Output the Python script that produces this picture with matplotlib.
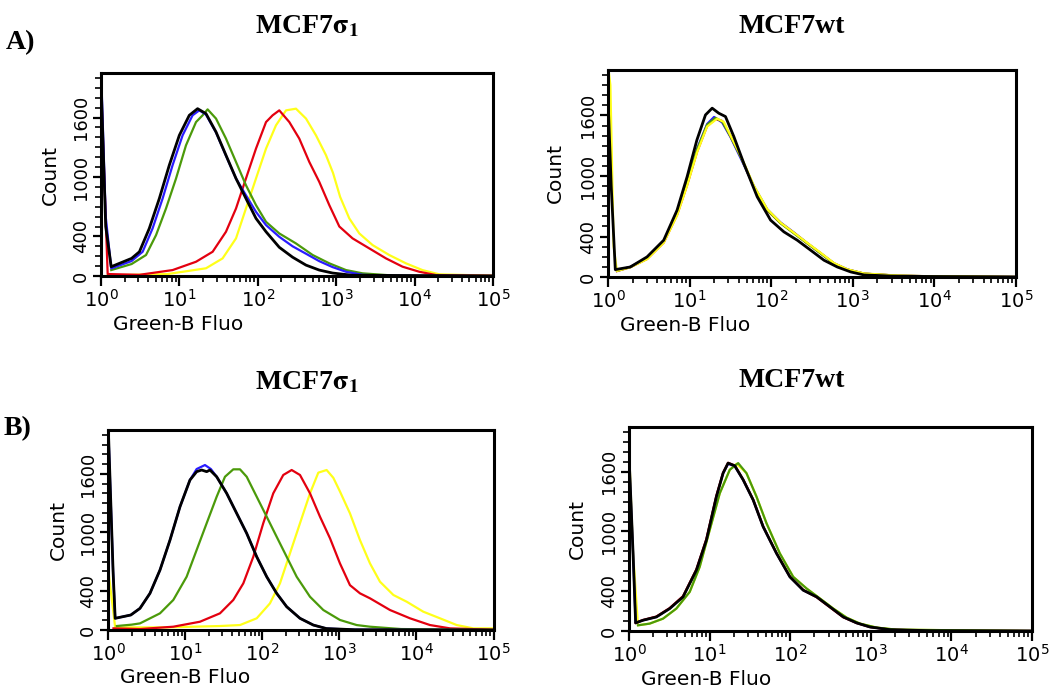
import matplotlib
matplotlib.use("Agg")
import matplotlib.pyplot as plt
from matplotlib.ticker import LogLocator, MultipleLocator, NullFormatter
import numpy as np

plt.rcParams['font.family'] = ['DejaVu Sans']
plt.rcParams['mathtext.fontset'] = 'dejavusans'
plt.rcParams['mathtext.default'] = 'regular'

# histogram traces as (log10 fluorescence, count)
# A) MCF7 sigma1
a1_blue = [(0.0, 2100), (0.06, 600), (0.13, 77), (0.39, 151), (0.531, 245), (0.658, 481), (0.786, 783),
           (0.913, 1119), (1.041, 1421), (1.168, 1623), (1.254, 1673), (1.339, 1630), (1.467, 1450),
           (1.594, 1215), (1.722, 985), (1.849, 816), (1.977, 648), (2.105, 514), (2.274, 396),
           (2.444, 300), (2.615, 225), (2.784, 150), (2.954, 90), (3.125, 43), (3.337, 12),
           (3.7, 3), (5.0, 0)]
a1_green = [(0.13, 60), (0.39, 121), (0.574, 212), (0.702, 413), (0.829, 682), (0.957, 985), (1.084, 1320),
            (1.212, 1555), (1.296, 1623), (1.36, 1683), (1.467, 1590), (1.594, 1388), (1.722, 1152),
            (1.849, 917), (1.977, 716), (2.105, 547), (2.274, 430), (2.487, 329), (2.7, 212),
            (2.912, 128), (3.125, 60), (3.337, 27), (3.76, 3), (5.0, 0)]
a1_black = [(0.0, 1975), (0.06, 500), (0.13, 94), (0.39, 178), (0.49, 245), (0.616, 481), (0.744, 783),
            (0.871, 1119), (0.999, 1421), (1.126, 1623), (1.232, 1690), (1.339, 1640), (1.467, 1455),
            (1.594, 1220), (1.722, 985), (1.849, 783), (1.977, 582), (2.105, 447), (2.274, 290),
            (2.444, 190), (2.615, 110), (2.784, 60), (2.954, 30), (3.2, 8), (5.0, 0)]
a1_red = [(0.0, 1942), (0.085, 20), (0.489, 12), (0.913, 60), (1.212, 144), (1.424, 245), (1.594, 447),
          (1.722, 682), (1.849, 985), (1.977, 1287), (2.105, 1555), (2.189, 1623), (2.274, 1673),
          (2.402, 1555), (2.529, 1388), (2.657, 1152), (2.784, 951), (2.912, 716), (3.04, 500),
          (3.209, 380), (3.422, 279), (3.635, 178), (3.847, 94), (4.06, 43), (4.273, 10), (5.0, 3)]
a1_yellow = [(0.085, 7), (0.85, 20), (1.339, 78), (1.551, 178), (1.722, 380), (1.849, 682), (1.977, 985),
             (2.105, 1287), (2.232, 1522), (2.36, 1673), (2.487, 1690), (2.615, 1590), (2.742, 1421),
             (2.87, 1220), (2.96, 1040), (3.05, 800), (3.167, 582), (3.295, 430), (3.465, 312),
             (3.677, 212), (3.89, 128), (4.1, 60), (4.315, 17), (5.0, 3)]

# A) MCF7wt
a2_blue = [(0.11, 62), (0.274, 101), (0.479, 188), (0.683, 352), (0.847, 640), (0.97, 940), (1.092, 1270),
           (1.215, 1515), (1.3, 1585), (1.4, 1530), (1.502, 1385), (1.624, 1180), (1.788, 900),
           (1.952, 670), (2.115, 540), (2.279, 440), (2.443, 335), (2.606, 235), (2.77, 135),
           (2.934, 75), (3.138, 33), (3.547, 13), (3.957, 7), (5.0, 0)]
a2_red = [(0.11, 58), (0.274, 97), (0.479, 178), (0.683, 340), (0.847, 615), (0.97, 910), (1.092, 1240),
          (1.215, 1495), (1.317, 1565), (1.4, 1545), (1.502, 1395), (1.624, 1200), (1.788, 890),
          (1.952, 660), (2.115, 535), (2.279, 436), (2.443, 333), (2.606, 236), (2.77, 134),
          (2.934, 74), (3.138, 33), (3.547, 13), (3.957, 7), (5.0, 0)]
a2_green = [(0.11, 60), (0.274, 99), (0.479, 184), (0.683, 350), (0.847, 632), (0.97, 930), (1.092, 1262),
            (1.215, 1508), (1.317, 1575), (1.4, 1540), (1.502, 1392), (1.624, 1194), (1.788, 896),
            (1.952, 664), (2.115, 532), (2.279, 432), (2.443, 332), (2.606, 233), (2.77, 133),
            (2.934, 73), (3.138, 33), (3.547, 13), (3.957, 7), (5.0, 0)]
a2_yellow = [(0.0, 2100), (0.03, 1900), (0.07, 300), (0.11, 60), (0.274, 96), (0.479, 176), (0.683, 338),
             (0.847, 610), (0.97, 905), (1.092, 1235), (1.215, 1490), (1.338, 1568), (1.42, 1535),
             (1.502, 1400), (1.624, 1205), (1.788, 905), (1.952, 672), (2.115, 538), (2.279, 438),
             (2.443, 338), (2.606, 240), (2.77, 138), (2.934, 76), (3.138, 35), (3.547, 14), (3.957, 7),
             (5.0, 0)]
a2_black = [(0.0, 1790), (0.04, 900), (0.09, 73), (0.274, 99), (0.479, 199), (0.683, 364), (0.847, 662),
            (0.97, 993), (1.09, 1357), (1.195, 1605), (1.277, 1672), (1.358, 1622), (1.44, 1589),
            (1.543, 1390), (1.665, 1125), (1.829, 794), (1.993, 563), (2.156, 447), (2.32, 364),
            (2.484, 265), (2.647, 166), (2.81, 99), (2.975, 50), (3.138, 20), (3.547, 7), (5.0, 0)]

# B) MCF7 sigma1
b1_yellow = [(0.0, 600), (0.087, 27), (0.758, 27), (1.45, 41), (1.708, 51), (1.925, 120), (2.097, 273),
             (2.227, 478), (2.357, 786), (2.487, 1094), (2.617, 1401), (2.725, 1613), (2.833, 1640),
             (2.92, 1560), (3.006, 1420), (3.136, 1196), (3.266, 922), (3.396, 683), (3.526, 495),
             (3.7, 359), (3.873, 290), (4.088, 188), (4.305, 120), (4.522, 51), (4.738, 17), (5.0, 17)]
b1_red = [(0.065, 17), (0.409, 10), (0.842, 34), (1.188, 85), (1.448, 171), (1.621, 308), (1.751, 478),
          (1.881, 751), (2.01, 1094), (2.14, 1401), (2.27, 1589), (2.379, 1640), (2.487, 1589),
          (2.617, 1401), (2.747, 1161), (2.877, 940), (3.006, 683), (3.136, 460), (3.266, 376),
          (3.396, 325), (3.656, 205), (3.916, 120), (4.175, 51), (4.435, 17), (5.0, 3)]
b1_green = [(0.108, 41), (0.3, 55), (0.409, 68), (0.669, 171), (0.842, 308), (1.015, 546), (1.145, 820),
            (1.275, 1094), (1.405, 1366), (1.513, 1571), (1.621, 1647), (1.708, 1647), (1.795, 1571),
            (1.925, 1366), (2.055, 1161), (2.184, 956), (2.314, 751), (2.444, 546), (2.617, 341),
            (2.79, 205), (3.006, 103), (3.223, 51), (3.396, 34), (3.8, 10), (5.0, 0)]
b1_blue = [(0.0, 2016), (0.06, 600), (0.087, 120), (0.29, 154), (0.409, 222), (0.539, 376), (0.669, 615),
           (0.799, 922), (0.929, 1264), (1.058, 1537), (1.145, 1650), (1.253, 1691), (1.33, 1650),
           (1.405, 1571), (1.535, 1401), (1.665, 1196), (1.795, 991), (1.925, 751), (2.055, 546),
           (2.184, 376), (2.314, 239), (2.487, 120), (2.66, 51), (2.83, 15), (3.2, 3), (5.0, 0)]
b1_black = [(0.0, 2016), (0.06, 600), (0.087, 120), (0.29, 154), (0.409, 222), (0.539, 376), (0.669, 615),
            (0.799, 922), (0.929, 1264), (1.058, 1537), (1.145, 1623), (1.21, 1640), (1.275, 1623),
            (1.318, 1640), (1.405, 1571), (1.535, 1401), (1.665, 1196), (1.795, 991), (1.925, 751),
            (2.055, 546), (2.184, 376), (2.314, 239), (2.487, 120), (2.66, 51), (2.83, 15),
            (3.2, 3), (5.0, 0)]

# B) MCF7wt
b2_yellow = [(0.0, 1850), (0.05, 800), (0.112, 57), (0.257, 74), (0.423, 124), (0.588, 225), (0.754, 393),
             (0.878, 645), (1.002, 1015), (1.127, 1384), (1.251, 1620), (1.335, 1680), (1.458, 1586),
             (1.582, 1351), (1.707, 1082), (1.872, 780), (2.038, 544), (2.204, 427), (2.37, 326),
             (2.535, 225), (2.701, 134), (2.866, 74), (3.073, 34), (3.322, 13), (5.0, 0)]
b2_blue = [(0.0, 1780), (0.05, 800), (0.083, 81), (0.174, 108), (0.34, 141), (0.505, 225), (0.671, 343),
           (0.837, 612), (0.961, 914), (1.085, 1351), (1.168, 1586), (1.23, 1680), (1.313, 1655),
           (1.417, 1519), (1.541, 1317), (1.665, 1048), (1.831, 780), (1.997, 544), (2.162, 410),
           (2.328, 343), (2.494, 242), (2.659, 141), (2.825, 81), (2.991, 40), (3.24, 13),
           (3.737, 3), (5.0, 0)]
b2_red = [(0.083, 81), (0.174, 110), (0.34, 145), (0.505, 230), (0.671, 350), (0.837, 620), (0.961, 925),
          (1.085, 1360), (1.168, 1590), (1.23, 1690), (1.313, 1662), (1.417, 1522), (1.541, 1320),
          (1.665, 1050), (1.831, 782), (1.997, 546), (2.162, 412), (2.328, 340), (2.494, 238),
          (2.659, 138), (2.825, 80), (2.991, 40), (3.24, 13), (3.737, 3), (5.0, 0)]
b2_green = [(0.112, 57), (0.257, 74), (0.423, 124), (0.588, 225), (0.754, 393), (0.878, 645), (1.002, 1015),
            (1.127, 1384), (1.251, 1620), (1.355, 1687), (1.458, 1586), (1.582, 1351), (1.707, 1082),
            (1.872, 780), (2.038, 544), (2.204, 427), (2.37, 326), (2.535, 225), (2.701, 134),
            (2.866, 74), (3.073, 34), (3.322, 13), (5.0, 0)]
b2_black = [(0.0, 1780), (0.05, 800), (0.083, 81), (0.174, 108), (0.34, 141), (0.505, 225), (0.671, 343),
            (0.837, 612), (0.961, 914), (1.085, 1351), (1.168, 1586), (1.23, 1687), (1.313, 1660),
            (1.417, 1519), (1.541, 1317), (1.665, 1048), (1.831, 780), (1.997, 544), (2.162, 410),
            (2.328, 343), (2.494, 242), (2.659, 141), (2.825, 81), (2.991, 40), (3.24, 13),
            (3.737, 3), (5.0, 0)]

ytick_vals = [0, 400, 1000, 1600]
xtick_vals = [1, 10, 100, 1000, 10000, 100000]
xtick_labels = ['$10^{0}$', '$10^{1}$', '$10^{2}$', '$10^{3}$', '$10^{4}$', '$10^{5}$']
ymax = 2050

colors = {'blue': '#2a1cff', 'red': '#e3000f', 'green': '#4b9a0a', 'yellow': '#ffff1a', 'black': '#000000'}

panels = [
    ([0.0962, 0.5994, 0.3733, 0.2946], 'MCF7$\\mathbf{\\sigma_1}$',
     [('yellow', a1_yellow), ('red', a1_red), ('green', a1_green), ('blue', a1_blue), ('black', a1_black)]),
    ([0.579, 0.598, 0.3886, 0.3004], 'MCF7wt',
     [('blue', a2_blue), ('red', a2_red), ('green', a2_green), ('yellow', a2_yellow), ('black', a2_black)]),
    ([0.1033, 0.0856, 0.3667, 0.2903], 'MCF7$\\mathbf{\\sigma_1}$',
     [('yellow', b1_yellow), ('red', b1_red), ('green', b1_green), ('blue', b1_blue), ('black', b1_black)]),
    ([0.599, 0.0842, 0.3838, 0.2961], 'MCF7wt',
     [('yellow', b2_yellow), ('blue', b2_blue), ('red', b2_red), ('green', b2_green), ('black', b2_black)]),
]
title_pos = [(0.292, 0.962), (0.754, 0.962), (0.292, 0.445), (0.754, 0.448)]

fig = plt.figure(figsize=(10.5, 6.89), dpi=100)

for (rect, title, series), (tx, ty) in zip(panels, title_pos):
    ax = fig.add_axes(rect)
    for cname, pts in series:
        dec = np.array([p[0] for p in pts])
        cnt = np.array([p[1] for p in pts])
        lw = 2.0 if cname == 'black' else 1.6
        ax.plot(10 ** dec, cnt, color=colors[cname], lw=lw, solid_joinstyle='round')
    ax.set_xscale('log')
    ax.set_xlim(1, 1e5)
    ax.set_ylim(0, ymax)
    ax.set_xticks(xtick_vals)
    ax.set_xticklabels(xtick_labels, fontsize=14)
    ax.xaxis.set_minor_locator(LogLocator(base=10, subs=np.arange(2, 10), numticks=50))
    ax.xaxis.set_minor_formatter(NullFormatter())
    ax.set_yticks(ytick_vals)
    ax.set_yticklabels([str(v) for v in ytick_vals], rotation=90, va='center', fontsize=13)
    ax.yaxis.set_minor_locator(MultipleLocator(100))
    ax.tick_params(axis='x', which='major', direction='out', length=7, width=1.6, pad=2)
    ax.tick_params(axis='x', which='minor', direction='out', length=4, width=1.2)
    ax.tick_params(axis='y', which='major', direction='out', length=6, width=1.6, pad=2)
    ax.tick_params(axis='y', which='minor', direction='out', length=4, width=1.2)
    for sp in ax.spines.values():
        sp.set_linewidth(2.2)
    ax.set_xlabel('Green-B Fluo', fontsize=14.5, ha='left')
    ax.xaxis.set_label_coords(0.03, -0.19)
    ax.set_ylabel('Count', fontsize=14.5)
    ax.yaxis.set_label_coords(-0.105, 0.5)
    fig.text(tx, ty, title, fontsize=20, fontweight='bold', family='Liberation Serif',
             math_fontfamily='stix', ha='center', va='center')

fig.text(0.005, 0.938, 'A)', fontsize=20, fontweight='bold', family='Liberation Serif', va='center')
fig.text(0.003, 0.378, 'B)', fontsize=20, fontweight='bold', family='Liberation Serif', va='center')

fig.savefig('out.png', dpi=100, facecolor='white')
